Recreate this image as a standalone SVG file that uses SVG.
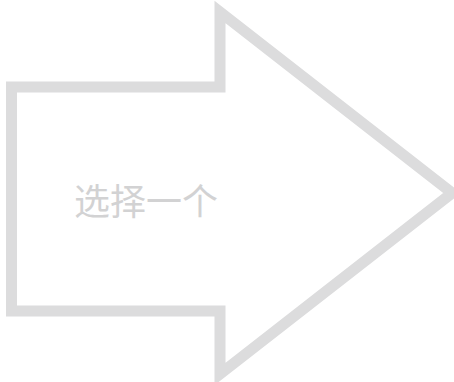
<svg xmlns="http://www.w3.org/2000/svg" width="454" height="382" viewBox="0 0 454 382">
<style>
.shape{fill:#ffffff;stroke:#dcdcdd;stroke-width:11;stroke-linejoin:miter;stroke-miterlimit:10}
.label{font-family:"Liberation Sans","Noto Sans CJK SC",sans-serif;font-size:36px;fill:#d2d2d3;text-anchor:middle}
</style>
<rect width="454" height="382" fill="#ffffff"/>
<g id="arrow">
<polygon class="shape" points="11.5,87 220,87 220,12 452,193 220,374 220,311 11.5,311"/>
<text class="label" x="146" y="215">选择一个</text>
</g>
</svg>
